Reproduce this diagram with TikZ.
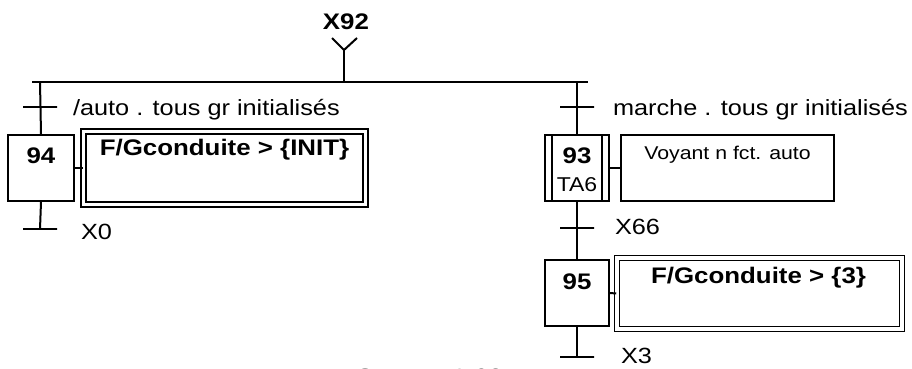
\documentclass[tikz,border=0pt]{standalone}
\usepackage{fontspec}
\setmainfont{Liberation Sans}[FakeStretch=1.15]
\usetikzlibrary{calc}
\begin{document}
\begin{tikzpicture}[x=1pt,y=-1pt, line width=2pt,
  every node/.style={font=\fontsize{22}{26}\selectfont, inner sep=0pt},
  stepbox/.style={draw, rectangle, minimum width=64pt, minimum height=66pt},
  actbox/.style={draw, rectangle},
  dblbox/.style={draw, rectangle, double, double distance=3.4pt, line width=1.6pt},
  tbar/.style={draw, rectangle, minimum width=34pt, minimum height=0pt},
  lbl/.style={anchor=base west},
  btxt/.style={font=\fontsize{22.5}{26}\selectfont\bfseries},
  stxt/.style={font=\fontsize{18.5}{22}\selectfont},
  ttxt/.style={font=\fontsize{20}{24}\selectfont}]
\useasboundingbox (0,0) rectangle (912,369);

% source step and divergence
\node[btxt, anchor=base] (x92) at (346,30) {X92};
\coordinate (yl) at (332,38);
\coordinate (yr) at (357,38);
\coordinate (yc) at (344,50);
\coordinate (yb) at (344,82);
\draw (yl) -- (yc) -- (yr);
\draw (yc) -- (yb);
\coordinate (hl) at (32,82);
\coordinate (hr) at (588,82);
\draw (hl) -- (hr);
\coordinate (bl) at (40,82);
\coordinate (br) at (577,82);

% left branch
\node[tbar] (t1) at (40,107) {};
\node[lbl] (c1) at (72,115) {/auto . tous gr initialisés};
\node[stepbox, minimum width=66pt] (s94) at (41,168) {};
\node[btxt] (n94) at (41,156) {94};
\node[dblbox, minimum width=281.5pt, minimum height=72.5pt] (a94) at (224.5,168) {};
\node[btxt, anchor=base] (f94) at (224.5,155) {F/Gconduite > \{INIT\}};
\draw (s94.east) -- (a94.west);
\draw (bl) -- (s94.north);
\node[tbar] (t4) at (40,229) {};
\draw (s94.south) -- (t4.center);
\node[lbl] (c4) at (80,239) {X0};

% right branch
\node[tbar] (t2) at (577,107) {};
\node[lbl] (c2) at (612,115) {marche . tous gr initialisés};
\node[stepbox] (s93) at (577,168) {};
\draw ($(s93.north west)+(8,0)$) -- ($(s93.south west)+(8,0)$);
\draw ($(s93.north east)+(-8,0)$) -- ($(s93.south east)+(-8,0)$);
\node[btxt] (n93) at (577,156) {93};
\node[ttxt] (ta6) at (577,185) {TA6};
\node[actbox, minimum width=213pt, minimum height=66pt] (a93) at (727.5,168) {};
\node[stxt] (v93) at (727.5,155) {Voyant n fct. auto};
\draw (s93.east) -- (a93.west);
\draw (br) -- (s93.north);

\node[tbar] (t3) at (577,228) {};
\node[lbl] (c3) at (614,234) {X66};
\node[stepbox] (s95) at (577,293) {};
\node[btxt] (n95) at (577,282) {95};
\node[dblbox, minimum width=285pt, minimum height=71pt] (a95) at (759.5,293.5) {};
\node[btxt, anchor=base] (f95) at (758.5,283) {F/Gconduite > \{3\}};
\draw (s93.south) -- (s95.north);
\draw (s95.east) -- (a95.west);
\node[tbar] (t5) at (577,357) {};
\draw (s95.south) -- (t5.center);
\node[lbl] (c5) at (620,363) {X3};

% caption (cut by the page edge, as in the reference)
\node[anchor=base] (cap) at (429,384) {Gemma 1-92};
\end{tikzpicture}
\end{document}
